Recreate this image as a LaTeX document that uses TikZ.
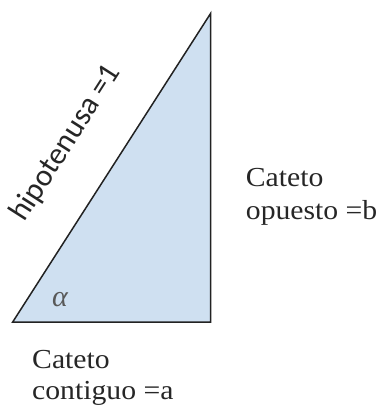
\documentclass[tikz,border=0pt]{standalone}
\usepackage{fontspec}
\setmainfont{Liberation Serif}
\newfontfamily\labfont[FakeStretch=1.08]{Liberation Serif}
\newfontfamily\hypfont{Carlito}
\definecolor{triblue}{RGB}{207,224,241}
\definecolor{edgegray}{RGB}{34,34,34}
\tikzset{
  lab/.style={anchor=base west, inner sep=0pt, font=\labfont\fontsize{27.5}{33}\selectfont, text=black!85},
  hyp/.style={inner sep=0pt, font=\hypfont\fontsize{31}{36}\selectfont, text=black!85, rotate=57.4},
}
\begin{document}
\begin{tikzpicture}[x=1pt,y=-1pt]
\useasboundingbox (0,0) rectangle (387,410);
\coordinate (A) at (12.7,322);
\coordinate (B) at (210.7,322);
\coordinate (C) at (210.7,13.3);
\fill[triblue] (A) -- (B) -- (C) -- cycle;
\draw[line width=1.5pt, edgegray, line join=miter] (A) -- (B) -- (C) -- cycle;
\node[hyp] (hyp) at (66,143) {hipotenusa =1};
\node[inner sep=0pt, text=black!65, font=\itshape\fontsize{30}{30}\selectfont] (alpha) at (60,300) {α};
\node[lab] (op1) at (245.7,186) {Cateto};
\node[lab] (op2) at (245.7,219) {opuesto =b};
\node[lab] (co1) at (32,368) {Cateto};
\node[lab] (co2) at (32,399) {contiguo =a};
\end{tikzpicture}
\end{document}
